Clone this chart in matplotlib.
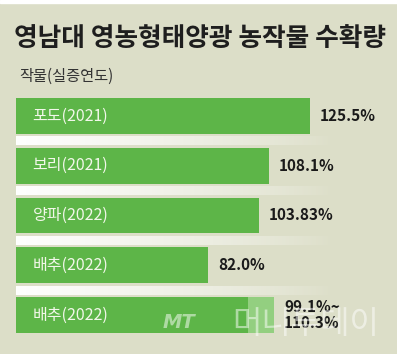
import numpy as np
import matplotlib
matplotlib.use("Agg")
import matplotlib.pyplot as plt

plt.rcParams['font.family'] = ['Noto Sans CJK KR', 'DejaVu Sans']

# ---- data ----
crops = ["포도(2021)", "보리(2021)", "양파(2022)", "배추(2022)", "배추(2022)"]
yields = [125.5, 108.1, 103.83, 82.0, 99.1]
yield_upper = [None, None, None, None, 110.3]
value_labels = ["125.5%", "108.1%", "103.83%", "82.0%", "99.1%~\n110.3%"]

title = "영남대 영농형태양광 농작물 수확량"
subtitle = "작물(실증연도)"

BG = "#dcdec8"
GREEN = "#5db548"
LIGHT_GREEN = "#93cf80"

W, H = 397, 354
fig = plt.figure(figsize=(W / 100, H / 100), dpi=100, facecolor=BG)

# axes: zero of the value scale sits 16 px from the left edge
ax = fig.add_axes([16 / W, 0, 1 - 16 / W, 1])
ax.set_facecolor("none")
for s in ax.spines.values():
    s.set_visible(False)
ax.set_xticks([])
ax.set_yticks([])

px_per_unit = 2.343
ax.set_xlim(0, (W - 16) / px_per_unit)
row_px, first_px = 49.75, 116
ax.set_ylim((H - first_px) / row_px, -first_px / row_px)

pos = np.arange(len(crops))
bar_h = 0.72

# white separator strips fading to the right
grad = np.zeros((1, 256, 4))
grad[..., :3] = 1.0
grad[..., 3] = np.linspace(1.0, 0.0, 256) ** 0.8
for i in range(len(crops) - 1):
    ax.imshow(grad, extent=[0, 135, i + 0.59, i + 0.41], aspect="auto",
              interpolation="bilinear", zorder=1)

ax.barh(pos, yields, height=bar_h, color=GREEN, zorder=2)

for i, (lo, hi) in enumerate(zip(yields, yield_upper)):
    if hi is not None:
        ax.barh(i, hi - lo, left=lo, height=bar_h, color=LIGHT_GREEN, zorder=2)

for i, name in enumerate(crops):
    ax.annotate(name, (0, i), xytext=(12, 0), textcoords="offset points",
                va="center", ha="left", fontsize=11.5, color="#f2f7ea", zorder=3)

for i, (lo, hi, lab) in enumerate(zip(yields, yield_upper, value_labels)):
    end = hi if hi is not None else lo
    ax.annotate(lab, (end, i), xytext=(7, 0), textcoords="offset points",
                va="center", ha="left", fontsize=11, fontweight="bold",
                color="#1a1a1a", linespacing=1.0, zorder=4)

# titles
fig.text(14 / W, 1 - 39 / H, title, fontsize=18.5, fontweight="bold",
         color="#1e1e1e", va="center", ha="left")
fig.text(19 / W, 1 - 76 / H, subtitle, fontsize=11, color="#333333",
         va="center", ha="left")

# watermark
fig.text(163 / W, 1 - 323 / H, "MT", fontsize=14, fontstyle="italic",
         fontweight="bold", color="white", alpha=0.5, va="center", ha="left",
         family=["DejaVu Sans"], zorder=3)
fig.text(232 / W, 1 - 324 / H, "머니투데이", fontsize=23, color="white",
         alpha=0.5, va="center", ha="left", zorder=3)

# thin white strip along the top edge
fig.patches.append(plt.Rectangle((0, 1 - 3 / H), 1, 3 / H, transform=fig.transFigure,
                                 color="white", zorder=0))

fig.savefig("out.png", dpi=100, facecolor=BG)
